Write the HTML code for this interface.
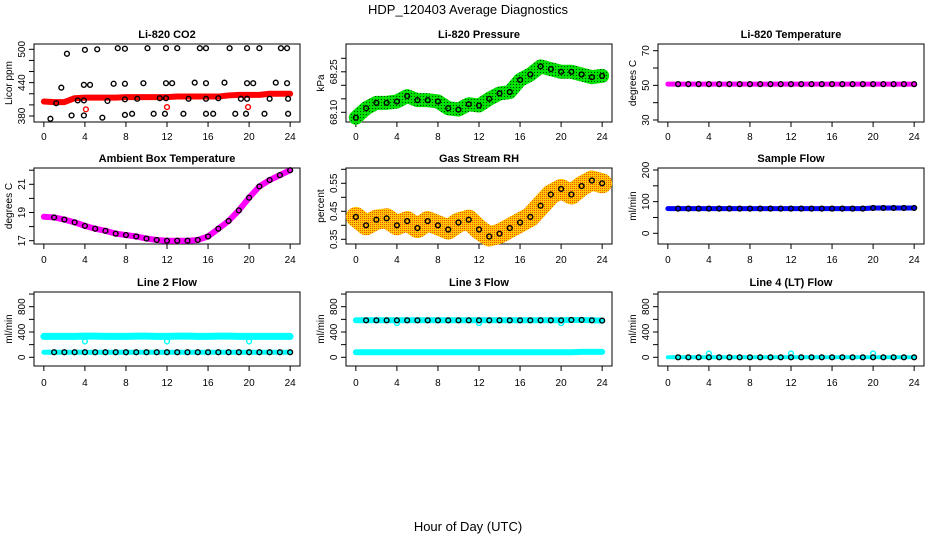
<!DOCTYPE html>
<html><head><meta charset="utf-8">
<style>
html,body{margin:0;padding:0;background:#fff;}
svg{display:block;font-family:"Liberation Sans",Arial,sans-serif;}
</style></head>
<body>
<svg id="chart" width="936" height="540" viewBox="0 0 936 540" xmlns="http://www.w3.org/2000/svg">
<defs>
<pattern id="pGreen" width="3" height="3" patternUnits="userSpaceOnUse"><rect width="3" height="3" fill="#00e000"/><rect width="1" height="1" fill="#004000"/></pattern>
<pattern id="pOrange" width="2" height="2" patternUnits="userSpaceOnUse"><rect width="2" height="2" fill="#ffc800"/><rect width="1" height="1" fill="#f05000"/></pattern>
</defs>
<text x="468" y="14" text-anchor="middle" font-size="13">HDP_120403  Average Diagnostics</text>
<text x="468" y="531" text-anchor="middle" font-size="13">Hour of Day (UTC)</text>
<g id="plots"></g>
</svg>
<script>
// ---- data (hourly values 0..24) ----
const hours = [0,1,2,3,4,5,6,7,8,9,10,11,12,13,14,15,16,17,18,19,20,21,22,23,24];
const xTicks = [0,4,8,12,16,20,24];

const co2Band = [406,405,405,412,413,413,413,413,414,414,414,414,414,415,415,415,415,415,417,418,418,418,420,420,420];
const co2CircleT = [0.64,1.2,1.7,2.25,2.7,3.3,4,3.9,3.9,3.9,4.5,5.2,5.7,6.2,6.8,7.2,7.9,7.9,7.9,7.9,8.6,9.1,9.7,10.1,10.7,11.3,11.8,11.9,11.9,11.9,12.5,13,13.6,14.1,14.7,15.2,15.8,15.8,15.8,15.8,16.5,17,17.6,18.1,18.65,19.2,19.7,19.8,19.8,19.8,20.4,21,21.5,22,22.6,23.1,23.7,23.7,23.8,23.8];
const co2CircleV = [375,403,431,492,381,408,499,381,436,408,436,500,377,407,438,502,501,438,382,410,384,411,439,502,384,412,384,412,439,502,439,502,384,411,440,502,502,439,411,384,384,412,440,502,384,411,384,411,439,502,439,502,384,411,440,502,502,439,411,384];
const co2OutT = [4.1,12,19.9];
const co2OutV = [392,396,396];

const pressVals = [68.08,68.115,68.135,68.135,68.14,68.16,68.145,68.145,68.14,68.115,68.11,68.13,68.125,68.15,68.17,68.175,68.22,68.24,68.27,68.26,68.25,68.25,68.24,68.23,68.235];
const licorTemp = [50.7,50.7,50.7,50.7,50.7,50.7,50.7,50.7,50.7,50.7,50.7,50.7,50.7,50.7,50.7,50.7,50.7,50.7,50.7,50.7,50.7,50.7,50.7,50.7,50.7];
const ambTemp = [18.7,18.65,18.5,18.3,18.05,17.85,17.7,17.5,17.4,17.3,17.15,17.05,17.0,17.0,17.0,17.05,17.3,17.85,18.4,19.15,20.05,20.85,21.3,21.65,22.0];
const rhVals = [0.43,0.40,0.42,0.425,0.40,0.415,0.39,0.415,0.40,0.385,0.41,0.42,0.385,0.36,0.37,0.39,0.41,0.43,0.47,0.51,0.53,0.51,0.54,0.56,0.55];
const sampleFlow = [78,78,78,78,78,78,78,78,78,78,78,78,78,78,78,78,78,78,78,78,80,80,80,80,80];
const line2High = [330,330,330,330,335,335,330,330,330,335,335,330,330,335,335,330,330,335,335,330,330,330,330,330,330];
const line2Low = [80,80,80,80,80,80,80,80,80,80,80,80,80,80,80,80,80,80,80,80,80,80,80,80,80];
const line3High = [585,585,585,585,585,585,585,585,585,585,585,585,585,585,585,585,585,585,585,585,585,590,590,585,580];
const line3Low = [80,80,80,80,80,80,80,80,80,80,80,80,80,80,80,80,80,80,80,80,80,80,85,85,85];
const line4Vals = [0,0,0,0,0,0,0,0,0,0,0,0,0,0,0,0,0,0,0,0,0,0,0,0,0];
const outT = [4,12,20];
const line2Out = [250,250,250];
const line3Out = [540,540,540];
const line4Out = [60,60,60];

const NS = "http://www.w3.org/2000/svg";
const root = document.getElementById('plots');
function mk(tag, attrs, parent){const e=document.createElementNS(NS,tag);for(const k in attrs)e.setAttribute(k,attrs[k]);(parent||root).appendChild(e);return e;}

const rowBox = [[44,122,139],[168,244,262],[292,366,385]];
function panel(o){
  const g = mk('g',{});
  
  
  const L = o.col*312+34, R = o.col*312+300, T = rowBox[o.row][0], B = rowBox[o.row][1];
  const w = R-L;
  const x = h => L + w*0.04/1.08 + h*(w/1.08)/24;
  const y = v => o.p0 + (v-o.v0)*(o.p1-o.p0)/(o.v1-o.v0);
  const box = mk('rect',{x:L,y:T,width:w,height:B-T,fill:'none',stroke:'#000','stroke-width':1},g);
  
  
  const t = mk('text',{x:(L+R)/2,y:T-6,'text-anchor':'middle','font-size':11,'font-weight':'bold'},g);
  t.textContent = o.title;
  
  
  xTicks.forEach(h=>{
    mk('line',{x1:x(h),x2:x(h),y1:B,y2:B+5,stroke:'#000'},g);
    const tl = mk('text',{x:x(h),y:rowBox[o.row][2]+1,'text-anchor':'middle','font-size':10},g);
    tl.textContent = h;
    
    
  });
  o.ticks.forEach(v=>{
    mk('line',{x1:L-5,x2:L,y1:y(v),y2:y(v),stroke:'#000'},g);
  });
  o.labels.forEach(v=>{
    const tl = mk('text',{x:L-9,y:y(v),'text-anchor':'middle','font-size':10,transform:`rotate(-90 ${L-9} ${y(v)})`},g);
    tl.textContent = o.fmt ? o.fmt(v) : v;
    
    
  });
  const yl = mk('text',{x:L-22,y:(T+B)/2,'text-anchor':'middle','font-size':10,transform:`rotate(-90 ${L-22} ${(T+B)/2})`},g);
  yl.textContent = o.ylab;
  
  
  o.series.forEach(s=>{
    const ts = s.t || hours;
    if(s.band){
      const pl = mk('polyline',{points:ts.map((h,i)=>x(h)+','+y(s.v[i])).join(' '),fill:'none',stroke:s.color,'stroke-width':s.band,'stroke-linecap':'round','stroke-linejoin':'round'},g);
      
      
    }
    if(s.circles){
      ts.forEach((h,i)=>{
        if(s.skip0 && h===0) return;
        const c = mk('circle',{cx:x(h),cy:y(s.v[i]),r:2.4,fill:'none',stroke:s.circles,'stroke-width':1.4},g);
        
        
      });
    }
  });
}

panel({name:'co2-panel',col:0,row:0,title:'Li-820 CO2',ylab:'Licor ppm',v0:380,p0:116,v1:500,p1:49.3,
  ticks:[380,400,420,440,460,480,500],labels:[380,440,500],
  series:[{v:co2Band,band:6,color:'#ff0000'},{t:co2OutT,v:co2OutV,circles:'#ff0000'},{t:co2CircleT,v:co2CircleV,circles:'#000'}]});
panel({name:'pressure-panel',col:1,row:0,title:'Li-820 Pressure',ylab:'kPa',v0:68.10,p0:112.3,v1:68.30,p1:58.3,
  ticks:[68.10,68.15,68.20,68.25,68.30],labels:[68.10,68.25],fmt:v=>v.toFixed(2),
  series:[{v:pressVals,band:14,color:'url(#pGreen)'},{v:pressVals,circles:'#000'}]});
panel({name:'licor-temp-panel',col:2,row:0,title:'Li-820 Temperature',ylab:'degrees C',v0:30,p0:120,v1:70,p1:50.7,
  ticks:[30,40,50,60,70],labels:[30,50,70],
  series:[{v:licorTemp,band:5,color:'#ff00ff'},{v:licorTemp,circles:'#000',skip0:true}]});
panel({name:'ambient-temp-panel',col:0,row:1,title:'Ambient Box Temperature',ylab:'degrees C',v0:17,p0:240.7,v1:21,p1:184.3,
  ticks:[17,18,19,20,21,22],labels:[17,19,21],
  series:[{v:ambTemp,band:6,color:'#ff00ff'},{v:ambTemp,circles:'#000',skip0:true}]});
panel({name:'rh-panel',col:1,row:1,title:'Gas Stream RH',ylab:'percent',v0:0.35,p0:239.3,v1:0.55,p1:183.3,
  ticks:[0.35,0.40,0.45,0.50,0.55,0.60],labels:[0.35,0.45,0.55],fmt:v=>v.toFixed(2),
  series:[{v:rhVals,band:20,color:'url(#pOrange)'},{v:rhVals,circles:'#000'}]});
panel({name:'sample-flow-panel',col:2,row:1,title:'Sample Flow',ylab:'ml/min',v0:0,p0:233.3,v1:200,p1:170,
  ticks:[0,50,100,150,200],labels:[0,100,200],
  series:[{v:sampleFlow,band:5,color:'#0000ff'},{v:sampleFlow,circles:'#000',skip0:true}]});
panel({name:'line2-flow-panel',col:0,row:2,title:'Line 2 Flow',ylab:'ml/min',v0:0,p0:357.3,v1:800,p1:306.7,
  ticks:[0,200,400,600,800,1000],labels:[0,400,800],
  series:[{v:line2High,band:7,color:'#00ffff'},{v:line2Low,band:5,color:'#00ffff'},{t:outT,v:line2Out,circles:'#00ffff'},{v:line2Low,circles:'#000',skip0:true}]});
panel({name:'line3-flow-panel',col:1,row:2,title:'Line 3 Flow',ylab:'ml/min',v0:0,p0:357.3,v1:800,p1:306.7,
  ticks:[0,200,400,600,800,1000],labels:[0,400,800],
  series:[{v:line3High,band:6,color:'#00ffff'},{v:line3Low,band:6,color:'#00ffff'},{t:outT,v:line3Out,circles:'#00ffff'},{v:line3High,circles:'#000',skip0:true}]});
panel({name:'line4-flow-panel',col:2,row:2,title:'Line 4 (LT) Flow',ylab:'ml/min',v0:0,p0:357.3,v1:800,p1:306.7,
  ticks:[0,200,400,600,800,1000],labels:[0,400,800],
  series:[{v:line4Vals,band:4,color:'#00ffff'},{t:outT,v:line4Out,circles:'#00ffff'},{v:line4Vals,circles:'#000',skip0:true}]});
</script>
</body></html>
